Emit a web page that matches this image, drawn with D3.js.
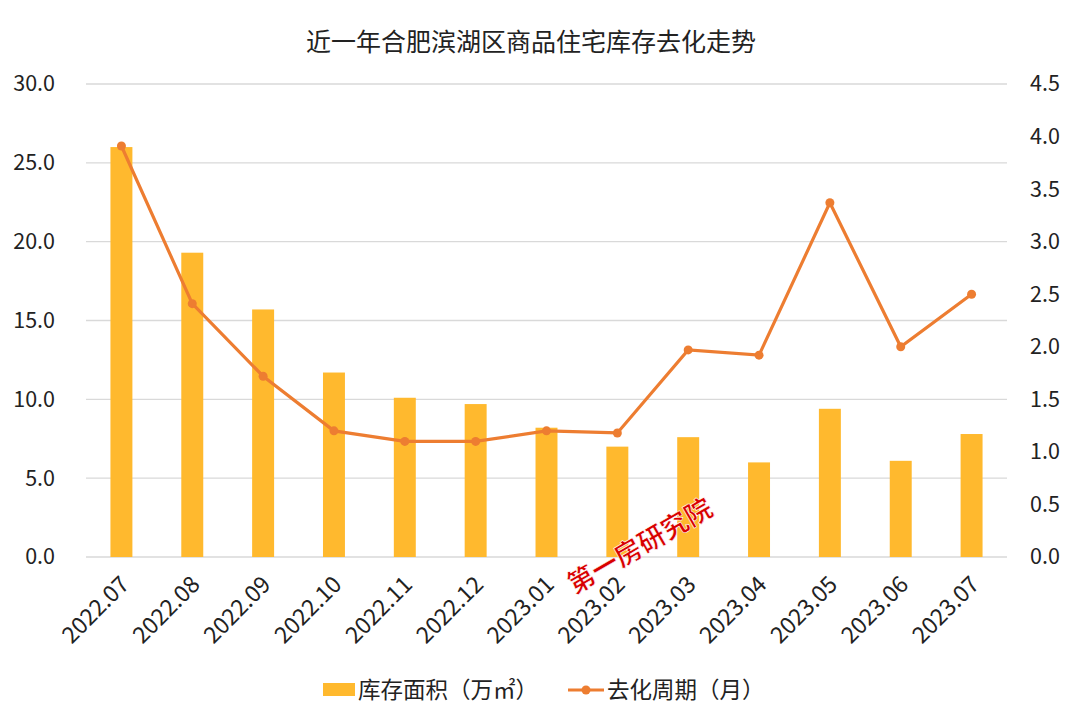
<!DOCTYPE html>
<html><head><meta charset="utf-8">
<script src="https://cdn.jsdelivr.net/npm/d3@7"></script>
<style>body{margin:0;background:#fff;} svg{display:block;}</style>
</head><body>
<svg id="c" width="1080" height="720"></svg>
<script>
const categories = ["2022.07","2022.08","2022.09","2022.10","2022.11","2022.12","2023.01","2023.02","2023.03","2023.04","2023.05","2023.06","2023.07"];
const inventory = [26.0,19.3,15.7,11.7,10.1,9.7,8.2,7.0,7.6,6.0,9.4,6.1,7.8];
const cycle = [3.91,2.41,1.72,1.20,1.10,1.10,1.20,1.18,1.97,1.92,3.37,2.00,2.50];
const leftTicks = [0,5,10,15,20,25,30];
const rightTicks = [0,0.5,1,1.5,2,2.5,3,3.5,4,4.5];
const title = "近一年合肥滨湖区商品住宅库存去化走势";
const seriesNames = ["库存面积（万㎡）","去化周期（月）"];
const watermark = "第一房研究院";

const font = "'Noto Sans CJK SC','Noto Sans',sans-serif";
const svg = d3.select("#c");
const L = 86, R = 1007, T = 84, B = 557;
const x = d3.scaleBand().domain(categories).range([L, R]).paddingInner(0.69).paddingOuter(0.345);
const yL = d3.scaleLinear().domain([0,30]).range([B,T]);
const yR = d3.scaleLinear().domain([0,4.5]).range([B,T]);

// grid
svg.append("g").selectAll("line").data(leftTicks).join("line")
  .attr("x1", L).attr("x2", R).attr("y1", d=>yL(d)).attr("y2", d=>yL(d))
  .attr("stroke", "#d9d9d9").attr("stroke-width", 1.3);

// left axis
const gl = svg.append("g").attr("transform", `translate(${L},0)`)
  .call(d3.axisLeft(yL).tickValues(leftTicks).tickFormat(d3.format(".1f")).tickSize(0).tickPadding(31));
gl.select(".domain").remove();
gl.selectAll("text").attr("font-family", font).attr("font-size", 21.5).attr("fill", "#222");

// right axis
const gr = svg.append("g").attr("transform", `translate(${R},0)`)
  .call(d3.axisRight(yR).tickValues(rightTicks).tickFormat(d3.format(".1f")).tickSize(0).tickPadding(23));
gr.select(".domain").remove();
gr.selectAll("text").attr("font-family", font).attr("font-size", 21.5).attr("fill", "#222");

// bars
svg.append("g").selectAll("rect").data(inventory).join("rect")
  .attr("x", (d,i)=>x(categories[i])).attr("width", x.bandwidth())
  .attr("y", d=>yL(d)).attr("height", d=>B - yL(d))
  .attr("fill", "#FFB92E");

// x labels
svg.append("g").selectAll("text").data(categories).join("text")
  .attr("transform", d=>`translate(${x(d)+x.bandwidth()/2+9},${B+29}) rotate(-45)`)
  .attr("text-anchor", "end")
  .attr("font-family", font).attr("font-size", 23).attr("fill", "#222")
  .text(d=>d);

// line
const cx = (i)=>x(categories[i]) + x.bandwidth()/2;
svg.append("path").datum(cycle)
  .attr("d", d3.line().x((d,i)=>cx(i)).y(d=>yR(d)))
  .attr("fill", "none").attr("stroke", "#ED7D31").attr("stroke-width", 3.2);
svg.append("g").selectAll("circle").data(cycle).join("circle")
  .attr("cx", (d,i)=>cx(i)).attr("cy", d=>yR(d)).attr("r", 4.5)
  .attr("fill", "#ED7D31");

// title
svg.append("text").attr("x", 531).attr("y", 51).attr("text-anchor", "middle")
  .attr("font-family", font).attr("font-size", 25).attr("fill", "#222").text(title);

// legend
const lg = svg.append("g");
lg.append("rect").attr("x", 323).attr("y", 683).attr("width", 32).attr("height", 13).attr("fill", "#FFB92E");
lg.append("text").attr("x", 358).attr("y", 698).attr("font-family", font).attr("font-size", 22.5).attr("fill", "#222").text(seriesNames[0]);
lg.append("line").attr("x1", 568).attr("x2", 604).attr("y1", 690).attr("y2", 690).attr("stroke", "#ED7D31").attr("stroke-width", 3.2);
lg.append("circle").attr("cx", 586).attr("cy", 690).attr("r", 4.5).attr("fill", "#ED7D31");
lg.append("text").attr("x", 607).attr("y", 698).attr("font-family", font).attr("font-size", 22.5).attr("fill", "#222").text(seriesNames[1]);

// watermark
svg.append("text").attr("transform", "translate(641,548) rotate(-30)")
  .attr("text-anchor", "middle").attr("dominant-baseline", "middle")
  .attr("font-family", font).attr("font-size", 27).attr("font-weight", "bold")
  .attr("fill", "#d80000").attr("stroke", "#fff").attr("stroke-width", 0.6)
  .text(watermark);
</script>
</body></html>
